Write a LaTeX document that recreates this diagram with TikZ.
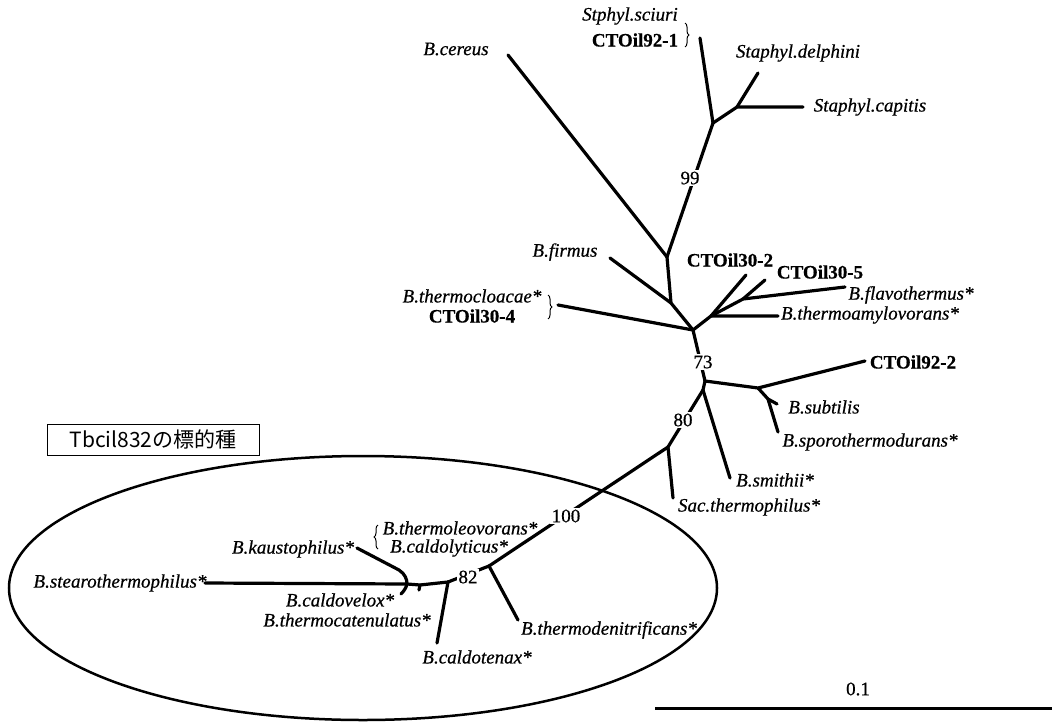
\documentclass[tikz,border=0pt]{standalone}
\usepackage{fontspec}
\setmainfont{Liberation Serif}
\newfontfamily\labf[FakeBold=0.6]{Liberation Serif}
\newfontfamily\cjkf{Noto Sans CJK JP}
\usetikzlibrary{decorations.pathreplacing}
\begin{document}
\begin{tikzpicture}[x=1pt,y=-1pt,
  br/.style={line width=3.2pt, line cap=round, line join=round},
  sp/.style={font=\labf\fontsize{19}{19}\selectfont\itshape, inner sep=0pt},
  cto/.style={font=\labf\fontsize{19}{19}\selectfont\bfseries, inner sep=0pt},
  bsv/.style={font=\labf\fontsize{19}{19}\selectfont, fill=white, inner sep=1.5pt},
  brc/.style={decorate, decoration={brace, amplitude=4pt}, line width=1pt}]
\useasboundingbox (0,0) rectangle (1060,723);

% ---- coordinates (tree) ----
\coordinate (cereus) at (508,55);
\coordinate (A) at (667,257);
\coordinate (sciuri) at (700,38);
\coordinate (S) at (713,123);
\coordinate (S2) at (737,107);
\coordinate (delph) at (758,73);
\coordinate (capit) at (803,107);
\coordinate (F) at (671,303);
\coordinate (firm) at (610,258);
\coordinate (B) at (693,330);
\coordinate (cloac) at (558,305);
\coordinate (C) at (711,316);
\coordinate (amylo) at (778,316);
\coordinate (c302) at (746,275);
\coordinate (G) at (743,299);
\coordinate (c305) at (765,280);
\coordinate (flavo) at (845,287);
\coordinate (D) at (705,381);
\coordinate (D2) at (703,390);
\coordinate (H) at (758,388);
\coordinate (c922) at (865,361);
\coordinate (T) at (768,399);
\coordinate (subt) at (777,404);
\coordinate (spor) at (778,432);
\coordinate (smith) at (730,478);
\coordinate (I) at (668,447);
\coordinate (sac) at (673,498);
\coordinate (K) at (489,566);
\coordinate (denit) at (518,620);
\coordinate (L) at (448,582);
\coordinate (tenax) at (437,643);
\coordinate (M) at (420,585);
\coordinate (Mt) at (419,590);
\coordinate (N) at (407,584);
\coordinate (stearo) at (205,583);
\coordinate (kaus) at (357,548);
\coordinate (velox) at (401,594);

% ---- branches ----
\draw[br] (cereus) -- (A);
\draw[br] (sciuri) -- (S);
\draw[br] (S) -- (S2) -- (capit);
\draw[br] (S2) -- (delph);
\draw[br] (S) -- (A);
\draw[br] (A) -- (F) -- (B);
\draw[br] (firm) -- (F);
\draw[br] (cloac) -- (B);
\draw[br] (B) -- (C) -- (amylo);
\draw[br] (C) -- (c302);
\draw[br] (C) -- (G) -- (flavo);
\draw[br] (G) -- (c305);
\draw[br] (B) -- (D);
\draw[br] (D) -- (H) -- (c922);
\draw[br] (H) -- (T) -- (subt);
\draw[br] (T) -- (spor);
\draw[br] (D) -- (D2) -- (smith);
\draw[br] (D2) -- (I);
\draw[br] (I) -- (sac);
\draw[br] (I) -- (K);
\draw[br] (K) -- (denit);
\draw[br] (K) -- (L) -- (tenax);
\draw[br] (L) -- (M) -- (N) -- (stearo);
\draw[br] (M) -- (Mt);
\draw[br] (kaus) -- (399,570) .. controls (405,574) and (407,579) .. (N);
\draw[br] (N) .. controls (406,588) and (404,591) .. (velox);

% ---- ellipse, box, scale bar ----
\draw[line width=2.5pt] (363,588) ellipse [x radius=354pt, y radius=132pt];
\node[draw, line width=0.8pt, minimum width=212pt, minimum height=31pt, inner sep=0pt,
      font=\cjkf\fontsize{21}{21}\selectfont] (box) at (153,439.5) {Tbcil832の標的種};
\coordinate (sb1) at (655,708);
\coordinate (sb2) at (1052,708);
\draw[line width=3pt] (sb1) -- (sb2);
\node[font=\labf\fontsize{19}{19}\selectfont] (scl) at (858,689) {0.1};

% ---- bootstrap values ----
\node[bsv] (b99) at (690,178) {99};
\node[bsv] (b73) at (703,362) {73};
\node[bsv] (b80) at (683,420) {80};
\node[bsv] (b100) at (566,516) {100};
\node[bsv] (b82) at (468,577) {82};

% ---- taxon labels ----
\node[sp] (lsciuri) at (630,16) {Stphyl.sciuri};
\node[cto] (l921) at (635,40) {CTOil92-1};
\draw[brc] (685,23) -- (685,47);
\node[sp] (lcereus) at (456,49) {B.cereus};
\node[sp] (ldelph) at (798,53) {Staphyl.delphini};
\node[sp] (lcapit) at (870,107) {Staphyl.capitis};
\node[sp] (lfirm) at (565,252) {B.firmus};
\node[sp] (lcloac) at (472,296) {B.thermocloacae*};
\node[cto] (l304) at (472,316) {CTOil30-4};
\draw[brc] (548,295) -- (548,319);
\node[cto] (l302) at (730,260) {CTOil30-2};
\node[cto] (l305) at (820,272) {CTOil30-5};
\node[sp] (lflavo) at (911,295) {B.flavothermus*};
\node[sp] (lamylo) at (870,315) {B.thermoamylovorans*};
\node[cto] (l922) at (913,362) {CTOil92-2};
\node[sp] (lsubt) at (824,407) {B.subtilis};
\node[sp] (lspor) at (870,442) {B.sporothermodurans*};
\node[sp] (lsmith) at (775,480) {B.smithii*};
\node[sp] (lsac) at (749,507) {Sac.thermophilus*};
\node[sp] (lleo) at (460,528) {B.thermoleovorans*};
\node[sp] (llyt) at (449,548) {B.caldolyticus*};
\draw[brc] (378,549) -- (378,525);
\node[sp] (lkaus) at (293,549) {B.kaustophilus*};
\node[sp] (lstearo) at (120,583) {B.stearothermophilus*};
\node[sp] (lvelox) at (340,600) {B.caldovelox*};
\node[sp] (lcaten) at (347,620) {B.thermocatenulatus*};
\node[sp] (ldenit) at (609,630) {B.thermodenitrificans*};
\node[sp] (ltenax) at (477,657) {B.caldotenax*};
\end{tikzpicture}
\end{document}
